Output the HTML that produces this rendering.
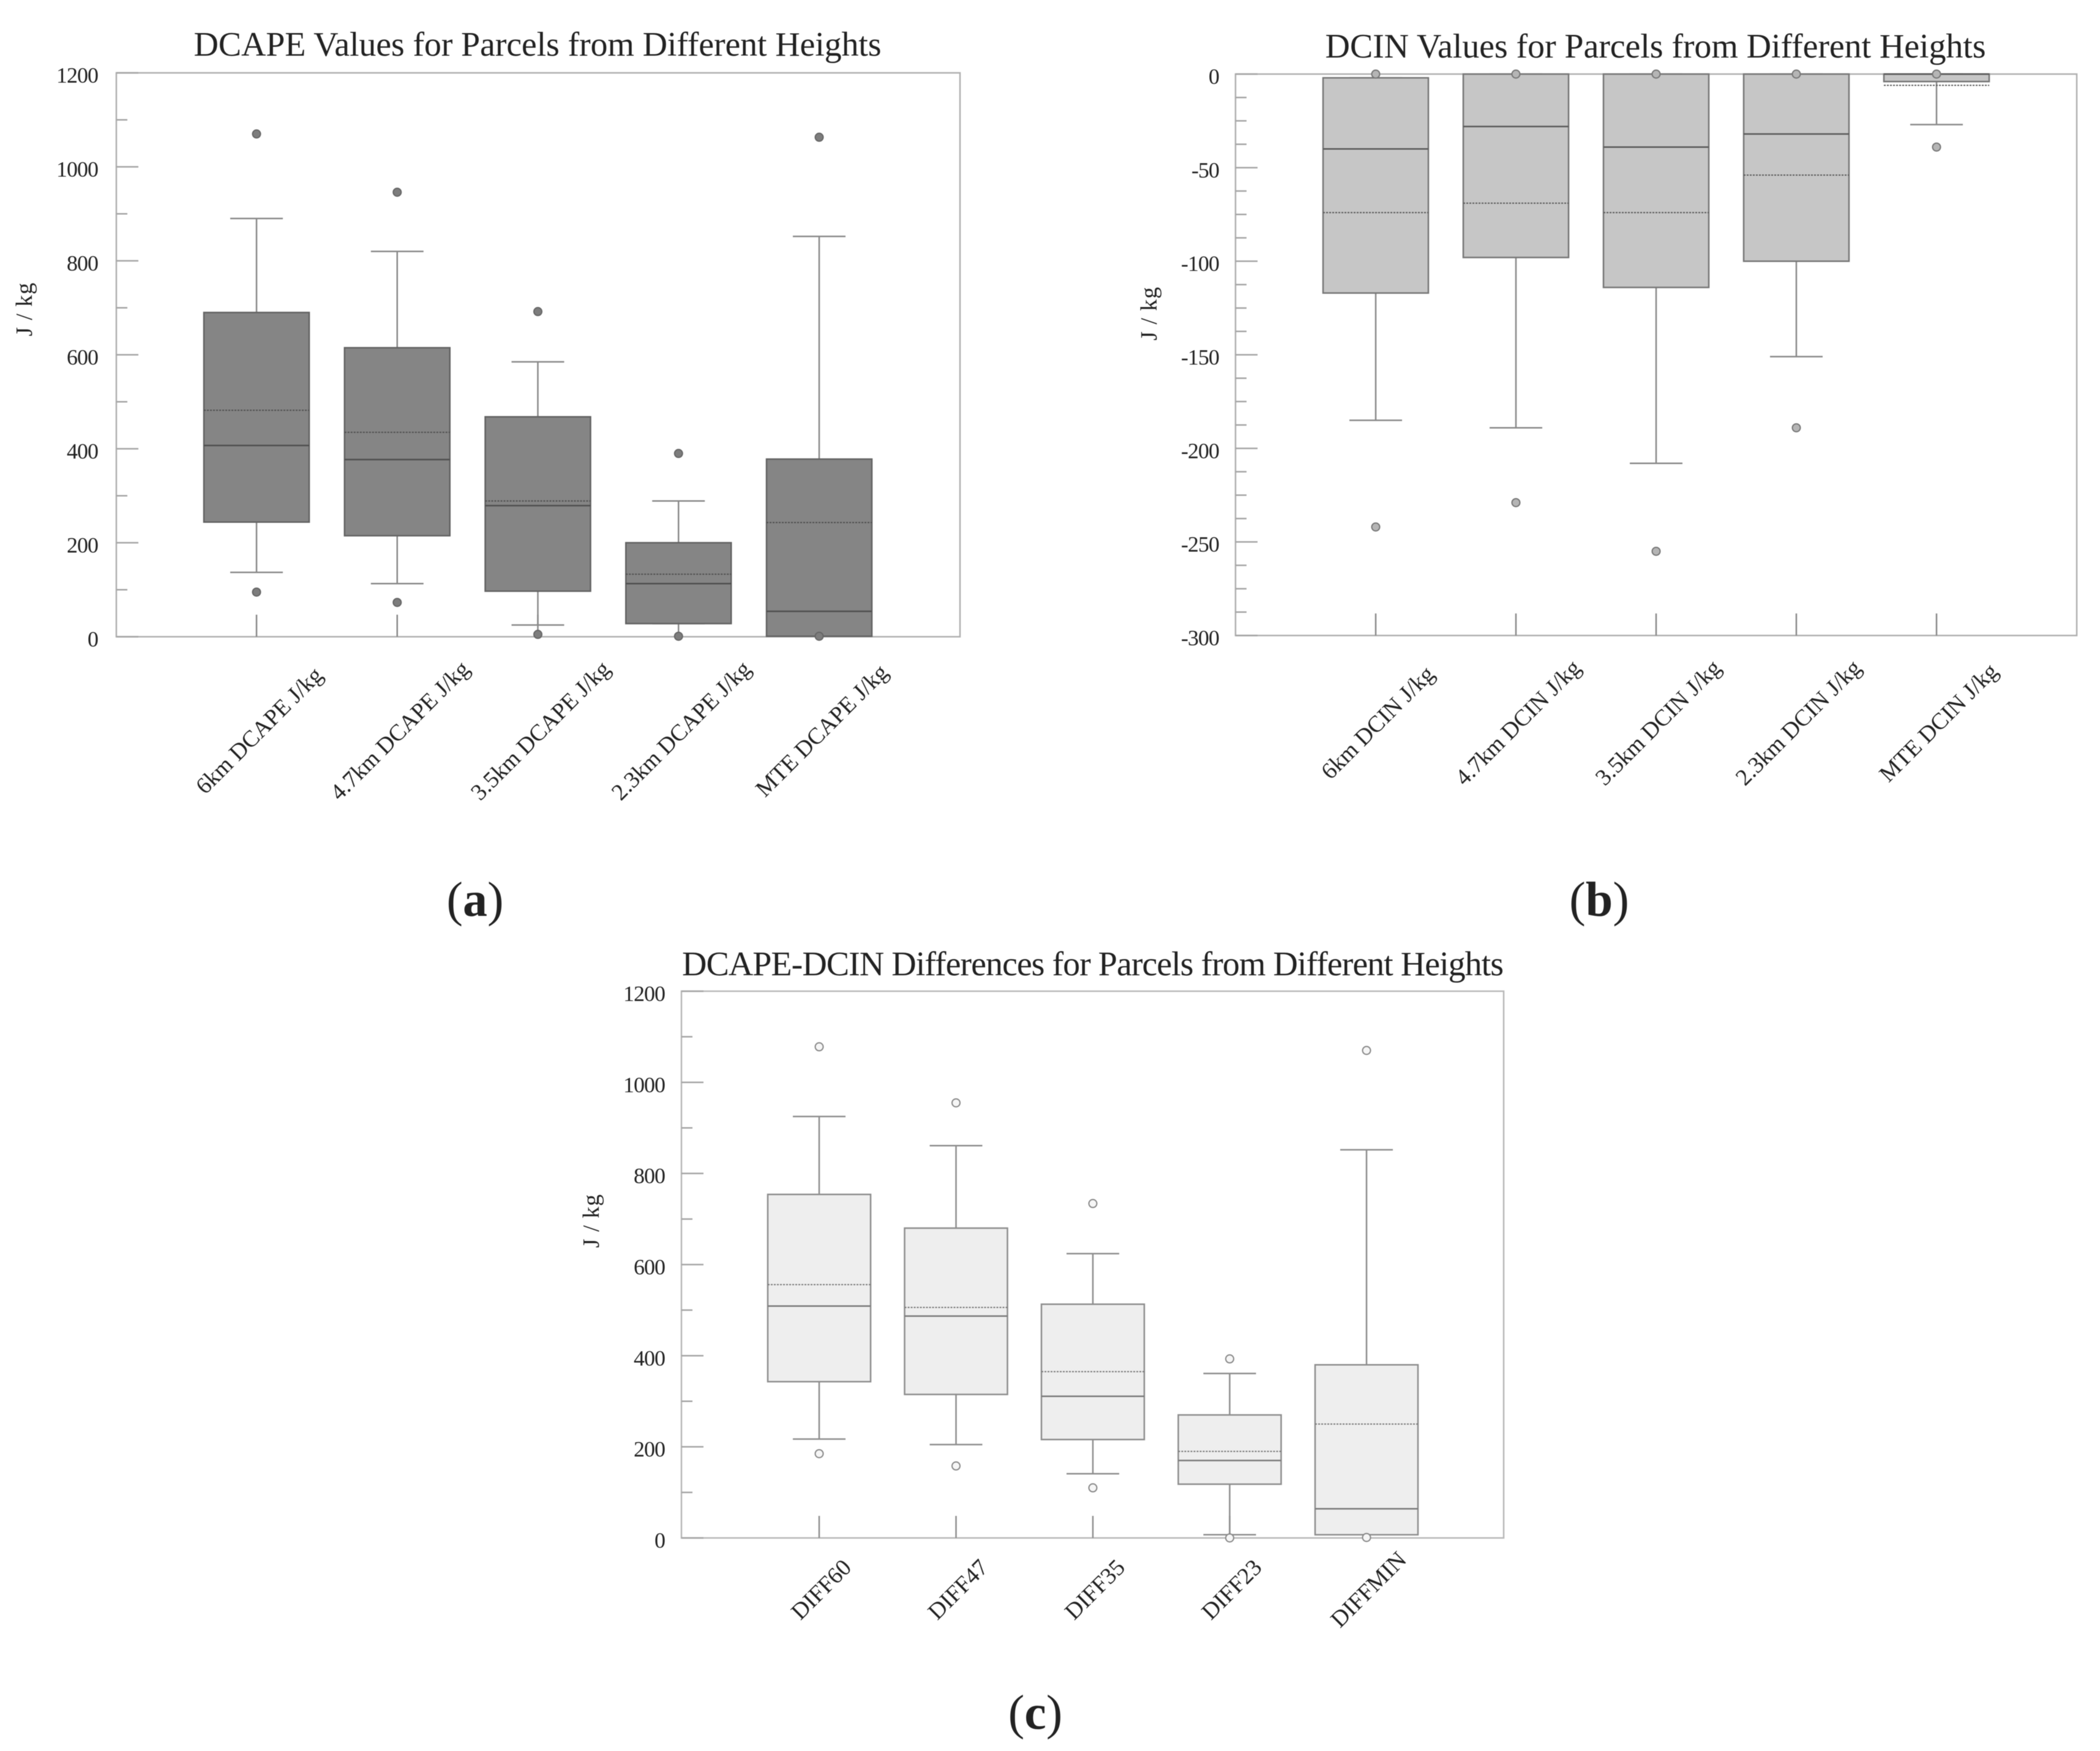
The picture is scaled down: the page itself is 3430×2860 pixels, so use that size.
<!DOCTYPE html>
<html lang="en">
<head>
<meta charset="utf-8">
<title>DCAPE and DCIN box plots</title>
<style>
html,body{margin:0;padding:0;background:#fff;}
#figure{display:block;width:3430px;height:2860px;background:#fff;filter:blur(0.6px);}
text{font-family:"Liberation Serif","DejaVu Serif",serif;fill:#222;}
</style>
</head>
<body>
<svg id="figure" xmlns="http://www.w3.org/2000/svg" width="3430" height="2860" viewBox="0 0 3430 2860">
  <g id="panel-a"></g>
  <g id="panel-b"></g>
  <g id="panel-c"></g>
  <text x="776" y="1496" text-anchor="middle" font-size="80">(<tspan font-weight="bold">a</tspan>)</text>
  <text x="2612" y="1496" text-anchor="middle" font-size="80">(<tspan font-weight="bold">b</tspan>)</text>
  <text x="1691" y="2824" text-anchor="middle" font-size="80">(<tspan font-weight="bold">c</tspan>)</text>
</svg>
<script>
// Panel (a) DCAPE
const aCategories = ['6km DCAPE J/kg','4.7km DCAPE J/kg','3.5km DCAPE J/kg','2.3km DCAPE J/kg','MTE DCAPE J/kg'];
const aWhiskerHigh = [890,820,585,289,852];
const aQ3 = [690,615,468,200,378];
const aMean = [482,435,289,133,243];
const aMedian = [407,377,279,113,54];
const aQ1 = [244,215,97,28,1];
const aWhiskerLow = [137,113,25,28,1];
const aOutliers = [[1070,95],[946,73],[692,5],[390,1],[1063,1]];
const aMajorTicks = [0,200,400,600,800,1000,1200];
const aMinorTicks = [100,300,500,700,900,1100];

// Panel (b) DCIN
const bCategories = ['6km DCIN J/kg','4.7km DCIN J/kg','3.5km DCIN J/kg','2.3km DCIN J/kg','MTE DCIN J/kg'];
const bWhiskerHigh = [-2,0,0,0,0];
const bQ3 = [-2,0,0,0,0];
const bMean = [-74,-69,-74,-54,-6];
const bMedian = [-40,-28,-39,-32,0];
const bQ1 = [-117,-98,-114,-100,-4];
const bWhiskerLow = [-185,-189,-208,-151,-27];
const bOutliers = [[0,-242],[0,-229],[0,-255],[0,-189],[0,-39]];
const bMajorTicks = [0,-50,-100,-150,-200,-250,-300];
const bMinorTicks = [-12.5,-25,-37.5,-62.5,-75,-87.5,-112.5,-125,-137.5,-162.5,-175,-187.5,-212.5,-225,-237.5,-262.5,-275,-287.5];

// Panel (c) differences
const cCategories = ['DIFF60','DIFF47','DIFF35','DIFF23','DIFFMIN'];
const cWhiskerHigh = [925,861,624,361,852];
const cQ3 = [754,680,513,270,380];
const cMean = [556,506,365,190,250];
const cMedian = [509,487,311,170,64];
const cQ1 = [343,315,216,118,7];
const cWhiskerLow = [217,205,141,7,7];
const cOutliers = [[1078,185],[955,158],[734,110],[393,0],[1070,1]];
const cMajorTicks = [0,200,400,600,800,1000,1200];
const cMinorTicks = [100,300,500,700,900,1100];

const SVG_NS = 'http://www.w3.org/2000/svg';

function make(parent, tag, attrs, content) {
  const el = document.createElementNS(SVG_NS, tag);
  for (const k in attrs) el.setAttribute(k, attrs[k]);
  if (content !== undefined) el.textContent = content;
  parent.appendChild(el);
  return el;
}

function linearScale(domainA, domainB, rangeA, rangeB) {
  return function (v) {
    return rangeA + (v - domainA) * (rangeB - rangeA) / (domainB - domainA);
  };
}

function drawPanel(p) {
  const root = document.getElementById(p.id);
  const y = linearScale(p.domain[0], p.domain[1], p.bottom, p.top);
  const n = p.categories.length;
  const x = linearScale(0, n - 1, p.firstX, p.lastX);

  const title = make(root, 'text', {x: p.titleX, y: p.titleY, 'text-anchor': 'middle', 'font-size': 56, textLength: p.titleWidth, lengthAdjust: 'spacing'}, p.title);
  
  

  const yTitle = make(root, 'text', {transform: 'translate(' + p.yTitleX + ' ' + p.yTitleY + ') rotate(-90)', 'text-anchor': 'middle', 'font-size': 38, 'letter-spacing': 1}, 'J / kg');
  
  

  const frame = make(root, 'rect', {x: p.left, y: p.top, width: p.right - p.left, height: p.bottom - p.top, fill: 'none', stroke: p.frameColor, 'stroke-width': 2.5});
  
  

  p.major.forEach(function (t) {
    const tick = make(root, 'line', {x1: p.left, x2: p.left + 36, y1: y(t), y2: y(t), stroke: '#a5a5a5', 'stroke-width': 2.5});
    
    
    const label = make(root, 'text', {x: p.left - p.labelGap, y: y(t) + 16, 'text-anchor': 'end', 'font-size': 36, 'letter-spacing': -1}, String(t));
    
    
  });
  p.minor.forEach(function (t) {
    const tick = make(root, 'line', {x1: p.left, x2: p.left + 18, y1: y(t), y2: y(t), stroke: '#a5a5a5', 'stroke-width': 2.5});
    
    
  });

  p.categories.forEach(function (cat, i) {
    const cx = x(i);
    const tick = make(root, 'line', {x1: cx, x2: cx, y1: p.bottom - 36, y2: p.bottom, stroke: p.lineColor, 'stroke-width': 2.5});
    
    

    const label = make(root, 'text', {transform: 'translate(' + (cx + p.labelDx) + ' ' + p.labelY + ') rotate(-45)', 'text-anchor': 'middle', 'font-size': 38}, cat);
    
    

    const whiskerUp = make(root, 'line', {x1: cx, x2: cx, y1: y(p.q3[i]), y2: y(p.hi[i]), stroke: p.lineColor, 'stroke-width': 2.5});
    
    
    const capUp = make(root, 'line', {x1: cx - 43, x2: cx + 43, y1: y(p.hi[i]), y2: y(p.hi[i]), stroke: p.lineColor, 'stroke-width': 2.5});
    
    
    const whiskerDown = make(root, 'line', {x1: cx, x2: cx, y1: y(p.q1[i]), y2: y(p.lo[i]), stroke: p.lineColor, 'stroke-width': 2.5});
    
    
    const capDown = make(root, 'line', {x1: cx - 43, x2: cx + 43, y1: y(p.lo[i]), y2: y(p.lo[i]), stroke: p.lineColor, 'stroke-width': 2.5});
    
    

    const box = make(root, 'rect', {x: cx - p.boxHalf, y: y(p.q3[i]), width: p.boxHalf * 2, height: y(p.q1[i]) - y(p.q3[i]), fill: p.boxFill, stroke: p.boxStroke, 'stroke-width': 2.5});
    
    

    const mean = make(root, 'line', {x1: cx - p.boxHalf, x2: cx + p.boxHalf, y1: y(p.mean[i]), y2: y(p.mean[i]), stroke: p.medianColor, 'stroke-width': 2, 'stroke-dasharray': '3 2'});
    
    
    const median = make(root, 'line', {x1: cx - p.boxHalf, x2: cx + p.boxHalf, y1: y(p.median[i]), y2: y(p.median[i]), stroke: p.medianColor, 'stroke-width': 2.5});
    
    

    p.outliers[i].forEach(function (v) {
      const dot = make(root, 'circle', {cx: cx, cy: y(v), r: 6.5, fill: p.outlierFill, stroke: p.outlierStroke, 'stroke-width': 2});
      
      
    });
  });
}

drawPanel({
  id: 'panel-a', title: 'DCAPE Values for Parcels from Different Heights',
  titleX: 878, titleY: 91, titleWidth: 1123, yTitleX: 52, yTitleY: 505,
  left: 190, right: 1568, top: 119, bottom: 1040, firstX: 419, lastX: 1338,
  domain: [0, 1200], major: aMajorTicks, minor: aMinorTicks, labelGap: 30,
  categories: aCategories, hi: aWhiskerHigh, q3: aQ3, mean: aMean, median: aMedian, q1: aQ1, lo: aWhiskerLow, outliers: aOutliers,
  labelDx: 13, labelY: 1202, boxHalf: 86,
  frameColor: '#b0b0b0', lineColor: '#8a8a8a', boxFill: '#858585', boxStroke: '#636363', medianColor: '#4f4f4f', outlierFill: '#7d7d7d', outlierStroke: '#666'
});

drawPanel({
  id: 'panel-b', title: 'DCIN Values for Parcels from Different Heights',
  titleX: 2704, titleY: 94, titleWidth: 1079, yTitleX: 1889, yTitleY: 512,
  left: 2018, right: 3392, top: 121, bottom: 1038, firstX: 2247, lastX: 3163,
  domain: [-300, 0], major: bMajorTicks, minor: bMinorTicks, labelGap: 27,
  categories: bCategories, hi: bWhiskerHigh, q3: bQ3, mean: bMean, median: bMedian, q1: bQ1, lo: bWhiskerLow, outliers: bOutliers,
  labelDx: 12, labelY: 1189, boxHalf: 86,
  frameColor: '#b0b0b0', lineColor: '#8a8a8a', boxFill: '#c6c6c6', boxStroke: '#777', medianColor: '#5a5a5a', outlierFill: '#b5b5b5', outlierStroke: '#777'
});

drawPanel({
  id: 'panel-c', title: 'DCAPE-DCIN Differences for Parcels from Different Heights',
  titleX: 1785, titleY: 1593, titleWidth: 1342, yTitleX: 978, yTitleY: 1994,
  left: 1113, right: 2456, top: 1619, bottom: 2512, firstX: 1338, lastX: 2232,
  domain: [0, 1200], major: cMajorTicks, minor: cMinorTicks, labelGap: 27,
  categories: cCategories, hi: cWhiskerHigh, q3: cQ3, mean: cMean, median: cMedian, q1: cQ1, lo: cWhiskerLow, outliers: cOutliers,
  labelDx: 12, labelY: 2605, boxHalf: 84,
  frameColor: '#b8b8b8', lineColor: '#8e8e8e', boxFill: '#eeeeee', boxStroke: '#8e8e8e', medianColor: '#7a7a7a', outlierFill: '#f6f6f6', outlierStroke: '#888'
});
</script>
</body>
</html>
